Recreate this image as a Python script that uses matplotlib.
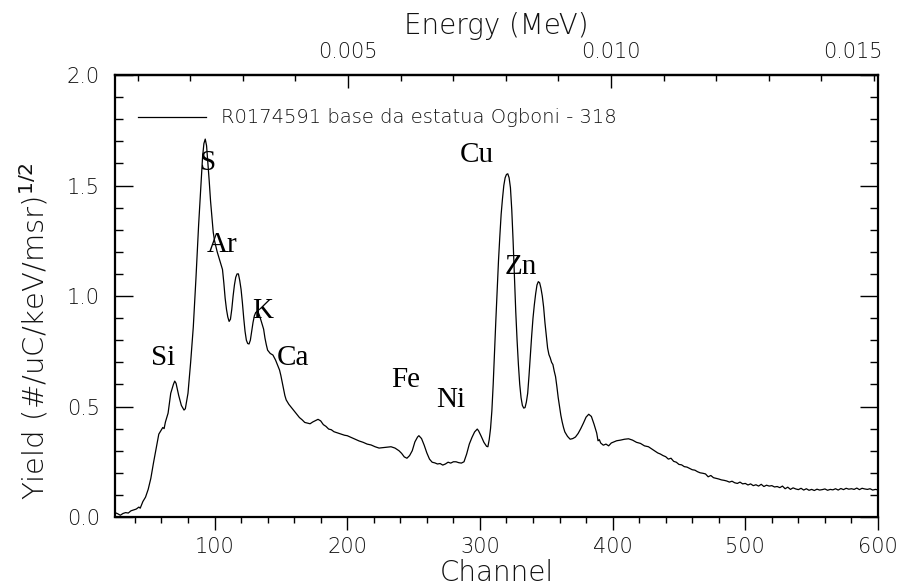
import matplotlib
matplotlib.use("Agg")
import matplotlib.pyplot as plt
from matplotlib.ticker import MultipleLocator, FixedLocator, FormatStrFormatter

# ---------- Spectrum data (channel, sqrt-yield) ----------

channels = [
    25, 27, 29, 31, 33, 35, 37, 39, 41, 43, 44, 46, 48, 50, 52, 54, 56, 58, 60, 61,
    62, 63, 65, 67, 69, 70, 71, 73, 75, 77, 78, 80, 82, 84, 86, 88, 90, 91, 92, 93,
    94, 95, 96, 97, 98, 99, 100, 102, 104, 106, 107, 108, 109, 110, 111, 112, 113, 114, 115, 116,
    117, 118, 119, 120, 121, 122, 123, 124, 125, 126, 127, 128, 129, 130, 131, 132, 133, 134, 135, 136,
    137, 138, 139, 140, 142, 144, 146, 148, 149, 150, 151, 152, 153, 154, 156, 158, 160, 162, 164, 166,
    168, 170, 172, 174, 176, 178, 180, 182, 184, 186, 188, 190, 192, 194, 196, 198, 200, 203, 206, 209,
    212, 215, 218, 221, 224, 227, 230, 233, 236, 239, 241, 243, 245, 247, 249, 251, 253, 254, 256, 258,
    260, 262, 264, 266, 268, 270, 272, 274, 276, 278, 280, 282, 284, 286, 288, 290, 292, 294, 296, 298,
    299, 301, 303, 305, 306, 307, 308, 309, 310, 311, 312, 313, 314, 315, 316, 317, 318, 319, 320, 321,
    322, 323, 324, 325, 326, 327, 328, 329, 330, 331, 332, 333, 334, 335, 336, 337, 338, 339, 340, 341,
    342, 343, 344, 345, 346, 347, 348, 349, 350, 351, 352, 353, 354, 355, 356, 357, 358, 359, 360, 361,
    362, 363, 364, 366, 368, 370, 372, 374, 376, 378, 380, 382, 384, 386, 388, 389, 390, 391, 393, 395,
    397, 399, 401, 403, 406, 409, 412, 415, 418, 421, 424, 427, 430, 432, 434, 436, 438, 440, 442, 444,
    446, 448, 450, 452, 454, 456, 458, 460, 462, 464, 466, 468, 470, 472, 474, 476, 478, 480, 482, 484,
    486, 488, 490, 492, 494, 496, 498, 500, 502, 504, 506, 508, 510, 512, 514, 516, 518, 520, 522, 524,
    526, 528, 530, 532, 534, 536, 538, 540, 542, 544, 546, 548, 550, 552, 554, 556, 558, 560, 562, 564,
    566, 568, 570, 572, 574, 576, 578, 580, 582, 584, 586, 588, 590, 592, 594, 596, 598, 600,
]

yields = [
    0.020, 0.015, 0.008, 0.016, 0.020, 0.018, 0.028, 0.032, 0.036, 0.045, 0.040, 0.070, 0.090, 0.125, 0.175, 0.245, 0.310, 0.375, 0.395, 0.405,
    0.400, 0.430, 0.470, 0.560, 0.600, 0.615, 0.605, 0.550, 0.505, 0.484, 0.490, 0.560, 0.700, 0.860, 1.080, 1.320, 1.530, 1.630, 1.690, 1.710,
    1.680, 1.600, 1.520, 1.430, 1.360, 1.290, 1.250, 1.200, 1.160, 1.120, 1.060, 0.990, 0.940, 0.905, 0.885, 0.895, 0.940, 1.000, 1.050, 1.085,
    1.100, 1.100, 1.070, 1.030, 0.970, 0.900, 0.840, 0.800, 0.785, 0.783, 0.800, 0.840, 0.880, 0.910, 0.925, 0.930, 0.925, 0.910, 0.890, 0.870,
    0.850, 0.810, 0.780, 0.755, 0.740, 0.733, 0.710, 0.680, 0.665, 0.640, 0.610, 0.580, 0.550, 0.530, 0.510, 0.495, 0.480, 0.465, 0.450, 0.440,
    0.428, 0.425, 0.422, 0.430, 0.436, 0.442, 0.435, 0.418, 0.410, 0.398, 0.395, 0.386, 0.382, 0.378, 0.374, 0.370, 0.368, 0.360, 0.352, 0.344,
    0.338, 0.330, 0.326, 0.318, 0.312, 0.314, 0.316, 0.318, 0.312, 0.300, 0.288, 0.272, 0.266, 0.278, 0.300, 0.340, 0.362, 0.368, 0.355, 0.325,
    0.290, 0.262, 0.248, 0.245, 0.240, 0.242, 0.235, 0.240, 0.248, 0.244, 0.250, 0.250, 0.246, 0.244, 0.250, 0.285, 0.330, 0.360, 0.385, 0.398,
    0.390, 0.365, 0.338, 0.320, 0.318, 0.350, 0.400, 0.480, 0.600, 0.750, 0.890, 1.030, 1.160, 1.270, 1.370, 1.440, 1.500, 1.535, 1.550, 1.553,
    1.535, 1.490, 1.390, 1.250, 1.090, 0.930, 0.800, 0.690, 0.600, 0.540, 0.505, 0.493, 0.495, 0.520, 0.560, 0.640, 0.730, 0.820, 0.900, 0.960,
    1.010, 1.050, 1.065, 1.060, 1.035, 1.000, 0.950, 0.880, 0.820, 0.765, 0.735, 0.720, 0.700, 0.690, 0.660, 0.635, 0.590, 0.540, 0.500, 0.460,
    0.430, 0.405, 0.385, 0.365, 0.352, 0.355, 0.362, 0.378, 0.400, 0.425, 0.452, 0.465, 0.455, 0.420, 0.380, 0.345, 0.350, 0.335, 0.325, 0.330,
    0.322, 0.335, 0.340, 0.345, 0.348, 0.352, 0.354, 0.348, 0.338, 0.333, 0.322, 0.318, 0.306, 0.298, 0.290, 0.285, 0.278, 0.273, 0.262, 0.266,
    0.252, 0.248, 0.238, 0.236, 0.228, 0.226, 0.220, 0.214, 0.212, 0.205, 0.200, 0.198, 0.195, 0.182, 0.188, 0.178, 0.175, 0.172, 0.168, 0.166,
    0.163, 0.158, 0.162, 0.155, 0.152, 0.158, 0.150, 0.152, 0.145, 0.150, 0.142, 0.146, 0.140, 0.148, 0.138, 0.144, 0.140, 0.142, 0.136, 0.138,
    0.133, 0.140, 0.128, 0.135, 0.125, 0.132, 0.127, 0.124, 0.130, 0.122, 0.128, 0.121, 0.125, 0.120, 0.126, 0.122, 0.124, 0.127, 0.121, 0.125,
    0.123, 0.128, 0.122, 0.129, 0.124, 0.130, 0.126, 0.128, 0.125, 0.131, 0.124, 0.130, 0.127, 0.125, 0.128, 0.122, 0.125, 0.123,
]

# element labels: name, channel, height
elements = ["S", "Ar", "K", "Si", "Ca", "Fe", "Ni", "Cu", "Zn"]
elem_ch = [95.5, 105.3, 136.3, 61.5, 158.9, 243.7, 278.3, 297.9, 330.6]
elem_y = [1.60, 1.23, 0.93, 0.72, 0.72, 0.62, 0.53, 1.64, 1.13]

legend_label = "R0174591 base da estatua Ogboni - 318"

# energy calibration (MeV per channel, offset)
gain = 2.523e-5
offset = -0.00006
energy_ticks = [0.005, 0.010]
energy_edge = 0.015   # this tick sits on the right frame


def ch2e(ch):
    return ch * gain + offset


def e2ch(e):
    return (e - offset) / gain


# ---------- Plot ----------

axis_font = "DejaVu Sans"
weight = "light"
tick_color = "#111111"
label_color = "#111111"

fig = plt.figure(figsize=(9.02, 5.85), dpi=100)
ax = fig.add_axes([0.1275, 0.1162, 0.8459, 0.7556])

ax.plot(channels, yields, color="black", linewidth=0.9, label=legend_label)

ax.set_xlim(25, 600)
ax.set_ylim(0, 2.0)

for name, cx, cy in zip(elements, elem_ch, elem_y):
    ax.text(cx, cy, name, family="Liberation Serif", fontsize=21,
            ha="center", va="center", color="black")

leg = ax.legend(loc="center left", frameon=False, handlelength=3.5,
                handletextpad=0.75, borderpad=0, borderaxespad=0,
                bbox_to_anchor=(0.030, 0.903),
                prop={"family": axis_font, "size": 14, "weight": weight})
for t in leg.get_texts():
    t.set_color(label_color)

# bottom axis: channels
ax.xaxis.set_major_locator(MultipleLocator(100))
ax.xaxis.set_minor_locator(MultipleLocator(20))
ax.tick_params(axis="x", which="major", direction="out", length=9.5, width=1.0,
               labelsize=15, pad=5, top=False, labelcolor=tick_color)
ax.tick_params(axis="x", which="minor", direction="out", length=4.5, width=1.0, top=False)

# left / right axis: yield
ax.yaxis.set_major_locator(MultipleLocator(0.5))
ax.yaxis.set_minor_locator(MultipleLocator(0.1))
ax.yaxis.set_major_formatter(FormatStrFormatter("%.1f"))
ax.tick_params(axis="y", which="major", direction="in", length=13, width=1.0,
               labelsize=15, pad=11, right=True, labelcolor=tick_color)
ax.tick_params(axis="y", which="minor", direction="in", length=6, width=1.0, right=True)

for lab in ax.get_xticklabels() + ax.get_yticklabels():
    lab.set_family(axis_font)
    lab.set_weight(weight)

for sp in ax.spines.values():
    sp.set_linewidth(1.6)

# top axis: energy
sec = ax.secondary_xaxis("top", functions=(ch2e, e2ch))
sec.xaxis.set_major_locator(FixedLocator(energy_ticks))
sec.xaxis.set_minor_locator(MultipleLocator(0.001))
sec.xaxis.set_major_formatter(FormatStrFormatter("%.3f"))
sec.tick_params(axis="x", which="major", direction="in", length=9, width=1.0,
                labelsize=15, pad=9, labelcolor=tick_color)
sec.tick_params(axis="x", which="minor", direction="in", length=4.5, width=1.0)
sec.spines["top"].set_linewidth(1.6)
sec.set_xlabel("Energy (MeV)", family=axis_font, fontsize=20, weight=weight,
               color=label_color, labelpad=6)
for lab in sec.get_xticklabels():
    lab.set_family(axis_font)
    lab.set_weight(weight)

# label for the energy tick on the right frame, kept inside the figure
ax.annotate("%.3f" % energy_edge, xy=(e2ch(energy_edge), 1.0),
            xycoords=("data", "axes fraction"), xytext=(6, 9),
            textcoords="offset points", ha="right", va="bottom",
            family=axis_font, weight=weight, fontsize=15, color=tick_color,
            annotation_clip=False)

ax.set_xlabel("Channel", family=axis_font, fontsize=20, weight=weight,
              color=label_color, labelpad=1)
ax.set_ylabel("Yield (#/uC/keV/msr)$^{1/2}$", family=axis_font, fontsize=21,
              weight=weight, color=label_color)
ax.yaxis.set_label_coords(-0.084, 0.42)

fig.savefig("out.png", dpi=100)
